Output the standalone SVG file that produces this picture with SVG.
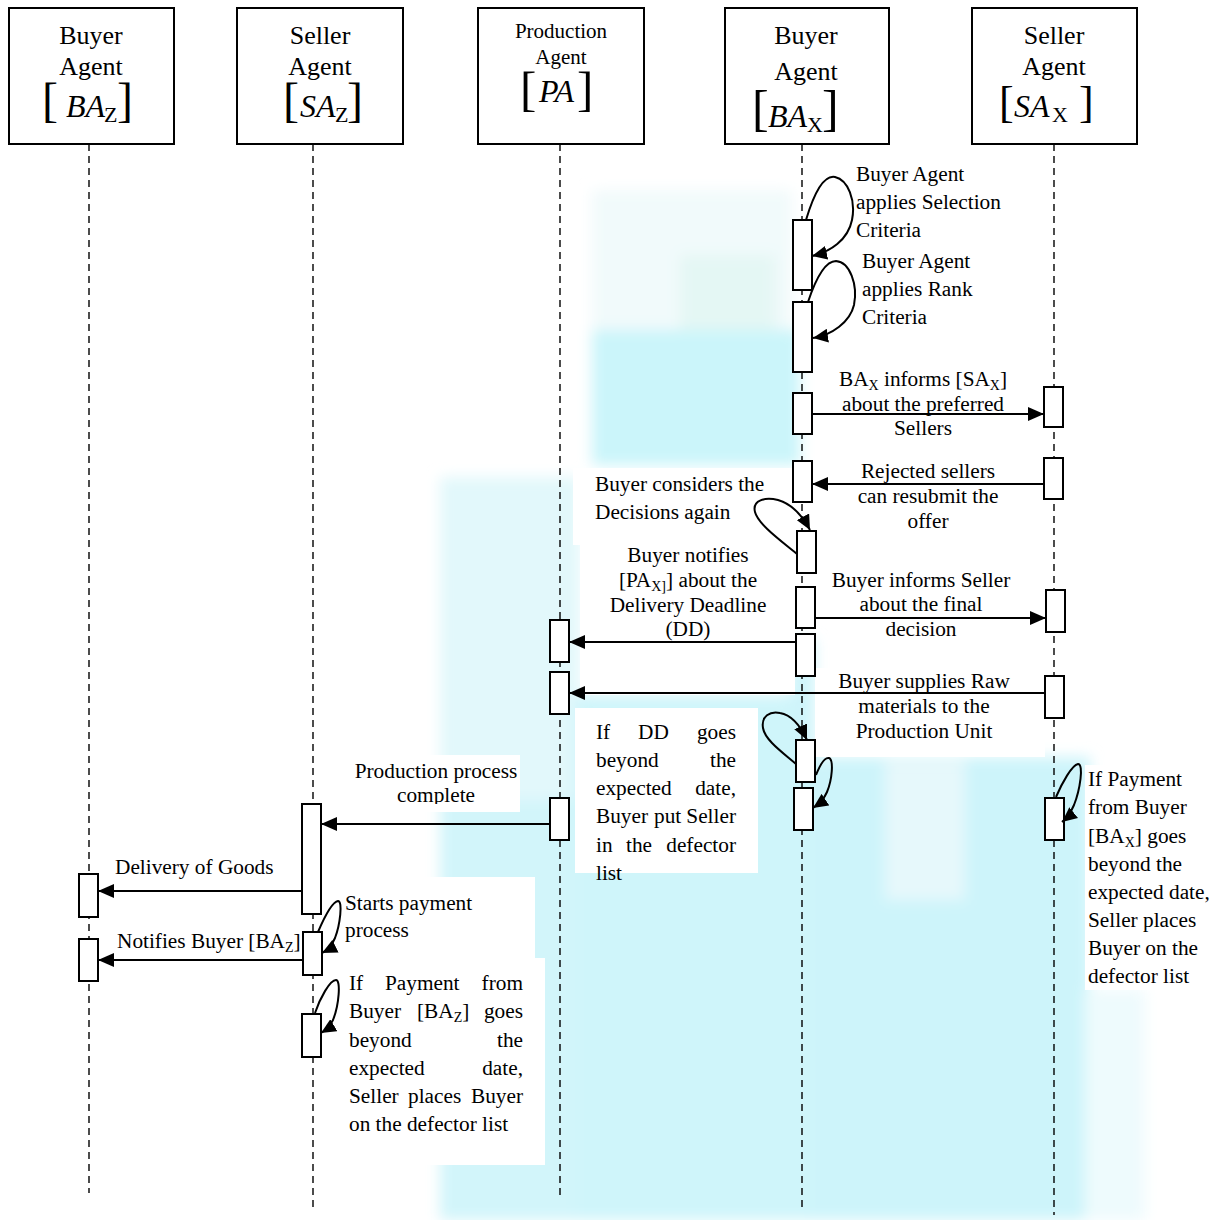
<svg xmlns="http://www.w3.org/2000/svg" width="1210" height="1220" viewBox="0 0 1210 1220">
  <defs>
    <style>
      .t { font-family: "Liberation Serif", "Times New Roman", serif; font-size: 21.3px; fill: #000; }
      .c { text-anchor: middle; }
      .e { text-anchor: end; }
      .h { font-size: 26px; }
      .h3 { font-size: 21px; }
      .mi { font-style: italic; font-size: 32px; }
      .ms { font-size: 22px; }
      .sub { font-size: 14px; }
      .head { fill: #fff; stroke: #000; stroke-width: 2; }
      .life { stroke: #000; stroke-width: 1.4; stroke-dasharray: 7 5; fill: none; }
      .act { fill: #fff; stroke: #000; stroke-width: 2; }
      .msg { stroke: #000; stroke-width: 2; fill: none; marker-end: url(#ah); }
      .loop { stroke: #000; stroke-width: 2; fill: none; marker-end: url(#lh); }
      .pad { fill: #fff; }
    </style>
    <marker id="ah" markerUnits="userSpaceOnUse" markerWidth="17" markerHeight="14" refX="16" refY="7" orient="auto">
      <path d="M0,0 L16,7 L0,14 z" fill="#000"/>
    </marker>
    <marker id="lh" markerUnits="userSpaceOnUse" markerWidth="16" markerHeight="14" refX="15" refY="7" orient="auto">
      <path d="M0,0 L15,7 L0,14 z" fill="#000"/>
    </marker>
    <filter id="soft" x="-10%" y="-10%" width="120%" height="120%">
      <feGaussianBlur stdDeviation="7"/>
    </filter>
    <clipPath id="cut">
      <rect x="300" y="740" width="300" height="64"/>
    </clipPath>
  </defs>

  <rect x="0" y="0" width="1210" height="1220" fill="#fff"/>

  <!-- pale cyan wash behind the lower half -->
  <g id="wash" filter="url(#soft)">
    <rect x="592" y="190" width="200" height="140" fill="#f1fafb"/>
    <rect x="680" y="255" width="95" height="80" fill="#e4f7f4"/>
    <rect x="592" y="330" width="208" height="135" fill="#cbf5fa"/>
    <rect x="440" y="477" width="140" height="330" fill="#e2f8fb"/>
    <rect x="440" y="800" width="140" height="420" fill="#d2f5fa"/>
    <rect x="575" y="695" width="240" height="525" fill="#cff5fa"/>
    <rect x="790" y="640" width="25" height="120" fill="#cff4fa"/>
    <rect x="810" y="757" width="280" height="463" fill="#cdf4fa"/>
    <rect x="885" y="760" width="80" height="140" fill="#e6f8fb"/>
    <rect x="1085" y="990" width="60" height="230" fill="#eefbfd"/>
  </g>

  <!-- text box backgrounds -->
  <g id="pads">
    <rect class="pad" x="573" y="468" width="222" height="77"/>
    <rect class="pad" x="580" y="545" width="215" height="150"/>
    <rect class="pad" x="575" y="708" width="183" height="165"/>
    <rect class="pad" x="815" y="668" width="230" height="89"/>
    <rect class="pad" x="1085" y="765" width="125" height="225"/>
    <rect class="pad" x="340" y="877" width="195" height="81"/>
    <rect class="pad" x="340" y="958" width="205" height="207"/>
    <rect class="pad" x="345" y="755" width="175" height="57"/>
  </g>

  <!-- lifelines -->
  <g id="lifelines">
    <line class="life" x1="89" y1="144" x2="89" y2="1193"/>
    <line class="life" x1="313" y1="144" x2="313" y2="1207"/>
    <line class="life" x1="560" y1="144" x2="560" y2="1199"/>
    <line class="life" x1="802" y1="144" x2="802" y2="1212"/>
    <line class="life" x1="1054" y1="144" x2="1054" y2="1215"/>
  </g>

  <!-- participants -->
  <g id="buyer-z" class="t">
    <rect class="head" x="9" y="8" width="165" height="136"/>
    <text class="t h c" x="91" y="44">Buyer</text>
    <text class="t h c" x="91" y="75">Agent</text>
    <text class="t" y="116"><tspan x="42" font-size="48">[</tspan><tspan x="66" class="mi" y="117">BA</tspan><tspan x="104" class="ms" y="122">Z</tspan><tspan x="117" font-size="48" y="116">]</tspan></text>
  </g>
  <g id="seller-z" class="t">
    <rect class="head" x="237" y="8" width="166" height="136"/>
    <text class="t h c" x="320" y="44">Seller</text>
    <text class="t h c" x="320" y="75">Agent</text>
    <text class="t" y="116"><tspan x="283" font-size="48">[</tspan><tspan x="300" class="mi" y="117">SA</tspan><tspan x="335" class="ms" y="122">Z</tspan><tspan x="347" font-size="48" y="116">]</tspan></text>
  </g>
  <g id="production" class="t">
    <rect class="head" x="478" y="8" width="166" height="136"/>
    <text class="t h3 c" x="561" y="38">Production</text>
    <text class="t h3 c" x="561" y="64">Agent</text>
    <text class="t" y="105"><tspan x="520" font-size="49">[</tspan><tspan x="539" class="mi" y="102">PA</tspan><tspan x="577" font-size="49" y="105">]</tspan></text>
  </g>
  <g id="buyer-x" class="t">
    <rect class="head" x="725" y="8" width="164" height="136"/>
    <text class="t h c" x="806" y="44">Buyer</text>
    <text class="t h c" x="806" y="80">Agent</text>
    <text class="t" y="125"><tspan x="752" font-size="50">[</tspan><tspan x="768" class="mi" y="127">BA</tspan><tspan x="807" class="ms" y="132">X</tspan><tspan x="822" font-size="50" y="125">]</tspan></text>
  </g>
  <g id="seller-x" class="t">
    <rect class="head" x="972" y="8" width="165" height="136"/>
    <text class="t h c" x="1054" y="44">Seller</text>
    <text class="t h c" x="1054" y="75">Agent</text>
    <text class="t" y="117"><tspan x="999" font-size="44">[</tspan><tspan x="1014" class="mi" y="117">SA</tspan><tspan x="1052" class="ms" y="122">X</tspan><tspan x="1079" font-size="44" y="117">]</tspan></text>
  </g>

  <!-- activation bars -->
  <g id="activations">
    <rect class="act" x="793" y="220" width="19" height="70"/>
    <rect class="act" x="793" y="302" width="19" height="70"/>
    <rect class="act" x="793" y="393" width="19" height="41"/>
    <rect class="act" x="793" y="461" width="19" height="41"/>
    <rect class="act" x="797" y="531" width="19" height="42"/>
    <rect class="act" x="796" y="587" width="19" height="41"/>
    <rect class="act" x="796" y="634" width="19" height="42"/>
    <rect class="act" x="796" y="740" width="19" height="42"/>
    <rect class="act" x="794" y="788" width="19" height="42"/>
    <rect class="act" x="1044" y="387" width="19" height="40"/>
    <rect class="act" x="1044" y="458" width="19" height="41"/>
    <rect class="act" x="1046" y="590" width="19" height="42"/>
    <rect class="act" x="1045" y="676" width="19" height="42"/>
    <rect class="act" x="1045" y="798" width="19" height="42"/>
    <rect class="act" x="550" y="620" width="19" height="42"/>
    <rect class="act" x="550" y="672" width="19" height="42"/>
    <rect class="act" x="550" y="798" width="19" height="42"/>
    <rect class="act" x="302" y="804" width="19" height="110"/>
    <rect class="act" x="303" y="932" width="19" height="43"/>
    <rect class="act" x="302" y="1014" width="19" height="43"/>
    <rect class="act" x="79" y="874" width="19" height="43"/>
    <rect class="act" x="79" y="939" width="19" height="42"/>
  </g>

  <!-- messages and self calls -->
  <g id="connectors">
    <line class="msg" x1="812" y1="414" x2="1044" y2="414"/>
    <line class="msg" x1="1044" y1="484" x2="812" y2="484"/>
    <line class="msg" x1="815" y1="618" x2="1046" y2="618"/>
    <line class="msg" x1="796" y1="642" x2="569" y2="642"/>
    <line class="msg" x1="1045" y1="693" x2="569" y2="693"/>
    <line class="msg" x1="550" y1="824" x2="321" y2="824"/>
    <line class="msg" x1="302" y1="891" x2="98" y2="891"/>
    <line class="msg" x1="303" y1="960" x2="98" y2="960"/>

    <path class="loop" d="M806,220 C815,190 825,175 835,177 C848,180 856,200 852,220 C848,240 830,252 812,256"/>
    <path class="loop" d="M808,302 C817,275 826,261 836,261 C850,262 858,285 854,305 C850,322 832,335 813,338"/>
    <path class="loop" d="M797,554 C780,540 758,524 755,512 C752,500 765,497 778,500 C792,504 802,515 810,530"/>
    <path class="loop" d="M796,764 C782,752 765,740 763,728 C761,716 770,711 780,713 C792,715 800,725 807,740"/>
    <path class="loop" d="M816,775 C820,765 825,757 829,758 C834,760 832,780 827,792 C824,799 819,804 813,808"/>
    <path class="loop" d="M1056,797 C1062,783 1072,765 1078,764 C1084,764 1080,790 1074,805 C1071,812 1067,818 1062,822"/>
    <path class="loop" d="M318,932 C324,918 332,902 338,901 C343,901 340,925 335,938 C332,945 328,950 322,953"/>
    <path class="loop" d="M315,1013 C320,998 330,980 336,980 C341,980 339,1005 333,1020 C330,1026 326,1030 321,1033"/>
  </g>

  <!-- labels -->
  <g id="labels" class="t">
    <text class="t" x="856" y="181">Buyer Agent</text>
    <text class="t" x="856" y="209">applies Selection</text>
    <text class="t" x="856" y="237">Criteria</text>

    <text class="t" x="862" y="268">Buyer Agent</text>
    <text class="t" x="862" y="296">applies Rank</text>
    <text class="t" x="862" y="324">Criteria</text>

    <text class="t c" x="923" y="386">BA<tspan class="sub" dy="4">X</tspan><tspan dy="-4"> informs [SA</tspan><tspan class="sub" dy="4">X</tspan><tspan dy="-4">]</tspan></text>
    <text class="t c" x="923" y="411">about the preferred</text>
    <text class="t c" x="923" y="435">Sellers</text>

    <text class="t c" x="928" y="478">Rejected sellers</text>
    <text class="t c" x="928" y="503">can resubmit the</text>
    <text class="t c" x="928" y="528">offer</text>

    <text class="t" x="595" y="491">Buyer considers the</text>
    <text class="t" x="595" y="519">Decisions again</text>

    <text class="t c" x="688" y="562">Buyer notifies</text>
    <text class="t c" x="688" y="587">[PA<tspan class="sub" dy="4">X]</tspan><tspan dy="-4">] about the</tspan></text>
    <text class="t c" x="688" y="612">Delivery Deadline</text>
    <text class="t c" x="688" y="636">(DD)</text>

    <text class="t c" x="921" y="587">Buyer informs Seller</text>
    <text class="t c" x="921" y="611">about the final</text>
    <text class="t c" x="921" y="636">decision</text>

    <text class="t c" x="924" y="688">Buyer supplies Raw</text>
    <text class="t c" x="924" y="713">materials to the</text>
    <text class="t c" x="924" y="738">Production Unit</text>

    <text class="t" y="739"><tspan x="596">If</tspan><tspan x="638">DD</tspan></text>
    <text class="t e" x="736" y="739">goes</text>
    <text class="t" x="596" y="767">beyond</text>
    <text class="t e" x="736" y="767">the</text>
    <text class="t" x="596" y="795">expected</text>
    <text class="t e" x="736" y="795">date,</text>
    <text class="t" y="823"><tspan x="596">Buyer</tspan><tspan x="654">put</tspan></text>
    <text class="t e" x="736" y="823">Seller</text>
    <text class="t" y="852"><tspan x="596">in</tspan><tspan x="626">the</tspan></text>
    <text class="t e" x="736" y="852">defector</text>
    <text class="t" x="596" y="880">list</text>

    <text class="t" x="1088" y="786">If Payment</text>
    <text class="t" x="1088" y="814">from Buyer</text>
    <text class="t" x="1088" y="843">[BA<tspan class="sub" dy="4">X</tspan><tspan dy="-4">] goes</tspan></text>
    <text class="t" x="1088" y="871">beyond the</text>
    <text class="t" x="1088" y="899">expected date,</text>
    <text class="t" x="1088" y="927">Seller places</text>
    <text class="t" x="1088" y="955">Buyer on the</text>
    <text class="t" x="1088" y="983">defector list</text>

    <text class="t c" x="436" y="778">Production process</text>
    <text class="t c" x="436" y="802" clip-path="url(#cut)">complete</text>

    <text class="t" x="115" y="874">Delivery of Goods</text>

    <text class="t" x="345" y="910">Starts payment</text>
    <text class="t" x="345" y="937">process</text>

    <text class="t" x="117" y="948">Notifies Buyer [BA<tspan class="sub" dy="4">Z</tspan><tspan dy="-4">]</tspan></text>

    <text class="t" y="990"><tspan x="349">If</tspan><tspan x="385">Payment</tspan></text>
    <text class="t e" x="523" y="990">from</text>
    <text class="t" y="1018"><tspan x="349">Buyer</tspan><tspan x="417">[BA</tspan><tspan class="sub" dy="4">Z</tspan><tspan dy="-4">]</tspan></text>
    <text class="t e" x="523" y="1018">goes</text>
    <text class="t" x="349" y="1047">beyond</text>
    <text class="t e" x="523" y="1047">the</text>
    <text class="t" x="349" y="1075">expected</text>
    <text class="t e" x="523" y="1075">date,</text>
    <text class="t" y="1103"><tspan x="349">Seller</tspan><tspan x="408">places</tspan></text>
    <text class="t e" x="523" y="1103">Buyer</text>
    <text class="t" x="349" y="1131">on the defector list</text>
  </g>
</svg>
